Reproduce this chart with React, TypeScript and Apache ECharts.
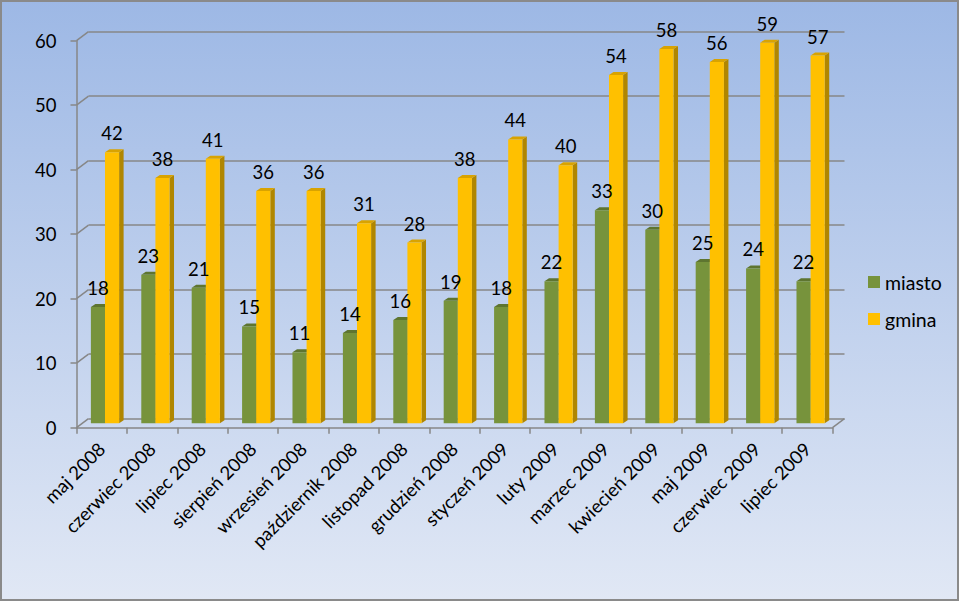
import React, { useEffect, useRef } from "react";
import * as echarts from "echarts";

const categories = [
  "maj 2008", "czerwiec 2008", "lipiec 2008", "sierpień 2008", "wrzesień 2008",
  "październik 2008", "listopad 2008", "grudzień 2008", "styczeń 2009", "luty 2009",
  "marzec 2009", "kwiecień 2009", "maj 2009", "czerwiec 2009", "lipiec 2009",
];
const miasto = [18, 23, 21, 15, 11, 14, 16, 19, 18, 22, 33, 30, 25, 24, 22];
const gmina = [42, 38, 41, 36, 36, 31, 28, 38, 44, 40, 54, 58, 56, 59, 57];
const yTicks = [0, 10, 20, 30, 40, 50, 60];

const FONT = "Lato, 'Noto Sans', sans-serif";
const FS = 18.5;
const DX = 12; // depth offset of the back wall
const DY = 9;

function barRender(side: number, front: string, sideColor: string, topColor: string) {
  return (params: any, api: any) => {
    const idx = api.value(0);
    const v = api.value(1);
    const top = api.coord([idx, v]);
    const base = api.coord([idx, 0]);
    const band = api.size([1, 0])[0];
    const w = band * 0.28;
    const x0 = side < 0 ? top[0] - w : top[0];
    const x1 = x0 + w;
    const yT = top[1];
    const yB = base[1];
    const dx = 4.5;
    const dy = 3;
    return {
      type: "group",
      children: [
        {
          type: "polygon",
          shape: { points: [[x1, yT], [x1 + dx, yT - dy], [x1 + dx, yB - dy], [x1, yB]] },
          style: { fill: sideColor },
        },
        {
          type: "polygon",
          shape: { points: [[x0, yT], [x1, yT], [x1 + dx, yT - dy], [x0 + dx, yT - dy]] },
          style: { fill: topColor },
        },
        {
          type: "rect",
          shape: { x: x0, y: yT, width: w, height: yB - yT },
          style: { fill: front },
        },
        {
          type: "text",
          z2: 100,
          x: (x0 + x1) / 2,
          y: yT - 19,
          style: {
            text: String(v),
            align: "center",
            verticalAlign: "middle",
            font: `${FS}px ${FONT}`,
            fill: "#000",
          },
        },
      ],
    };
  };
}

function connectorRender(params: any, api: any) {
  const v = api.value(0);
  const cs = params.coordSys;
  const y = api.coord([0, v])[1];
  const lineStyle = { stroke: "#878787", lineWidth: 1.5 };
  const children: any[] = [
    { type: "line", shape: { x1: cs.x, y1: y, x2: cs.x + DX, y2: y - DY }, style: lineStyle },
  ];
  if (v === 0) {
    const xr = cs.x + cs.width;
    children.push({ type: "line", shape: { x1: xr, y1: y, x2: xr + DX, y2: y - DY }, style: lineStyle });
  }
  return { type: "group", children };
}

export default function App() {
  const ref = useRef<HTMLDivElement>(null);
  useEffect(() => {
    if (!ref.current) return;
    const chart = echarts.init(ref.current, null, { renderer: "svg" });
    const gridW = 756;
    const gridH = 387;
    const frontLeft = 76.5;
    const frontTop = 40.7;
    const option: any = {
      animation: false,
      backgroundColor: {
        type: "linear", x: 0, y: 0, x2: 0, y2: 1,
        colorStops: [
          { offset: 0, color: "#9DB8E5" },
          { offset: 1, color: "#E1E8F5" },
        ],
      },
      graphic: [
        {
          type: "rect",
          shape: { x: 1, y: 1, width: 957, height: 599 },
          style: { fill: "none", stroke: "#8A8A8A", lineWidth: 2 },
          silent: true,
        },
      ],
      legend: {
        orient: "vertical",
        left: 863,
        top: 267,
        itemWidth: 12,
        itemHeight: 12,
        itemGap: 17,
        icon: "rect",
        textStyle: { fontFamily: FONT, fontSize: 19.5, color: "#000" },
        data: ["miasto", "gmina"],
      },
      grid: [
        // back wall
        { left: frontLeft + DX, top: frontTop - DY, width: gridW, height: gridH },
        // front axes
        { left: frontLeft, top: frontTop, width: gridW, height: gridH },
        // bars (mid depth)
        { left: frontLeft + 3.3, top: frontTop - 4.5, width: gridW, height: gridH },
      ],
      xAxis: [
        { gridIndex: 0, type: "category", data: categories, show: false },
        {
          gridIndex: 1,
          type: "category",
          data: categories,
          axisLine: { lineStyle: { color: "#878787", width: 1.5 } },
          axisTick: { show: true, length: 6, lineStyle: { color: "#878787", width: 1.5 } },
          axisLabel: {
            rotate: 45,
            margin: 18,
            interval: 0,
            fontFamily: FONT,
            fontSize: FS,
            color: "#000",
          },
        },
        { gridIndex: 2, type: "category", data: categories, show: false },
      ],
      yAxis: [
        {
          gridIndex: 0,
          type: "value",
          min: 0,
          max: 60,
          interval: 10,
          axisLine: { show: false },
          axisTick: { show: false },
          axisLabel: { show: false },
          splitLine: { show: true, lineStyle: { color: "#878787", width: 1.5 } },
        },
        {
          gridIndex: 1,
          type: "value",
          min: 0,
          max: 60,
          interval: 10,
          axisLine: { show: true, lineStyle: { color: "#878787", width: 1.5 } },
          axisTick: { show: true, length: 6, lineStyle: { color: "#878787", width: 1.5 } },
          axisLabel: { margin: 20, fontFamily: FONT, fontSize: FS, color: "#000" },
          splitLine: { show: false },
        },
        { gridIndex: 2, type: "value", min: 0, max: 60, interval: 10, show: false, splitLine: { show: false } },
      ],
      series: [
        {
          name: "connectors",
          type: "custom",
          xAxisIndex: 1,
          yAxisIndex: 1,
          renderItem: connectorRender,
          encode: { y: 0 },
          data: yTicks.map((t) => [t]),
          silent: true,
          z: 1,
        },
        {
          name: "miasto",
          type: "custom",
          xAxisIndex: 2,
          yAxisIndex: 2,
          itemStyle: { color: "#77933C" },
          renderItem: barRender(-1, "#77933C", "#5F7730", "#5E7530"),
          encode: { x: 0, y: 1 },
          data: miasto.map((v, i) => [i, v]),
          z: 3,
        },
        {
          name: "gmina",
          type: "custom",
          xAxisIndex: 2,
          yAxisIndex: 2,
          itemStyle: { color: "#FFC000" },
          renderItem: barRender(1, "#FFC000", "#B08600", "#D9A300"),
          encode: { x: 0, y: 1 },
          data: gmina.map((v, i) => [i, v]),
          z: 3,
        },
      ],
    };
    chart.setOption(option);
    return () => chart.dispose();
  }, []);
  return (
    <div
      ref={ref}
      style={{ position: "fixed", left: 0, top: 0, width: 959, height: 601 }}
    />
  );
}
